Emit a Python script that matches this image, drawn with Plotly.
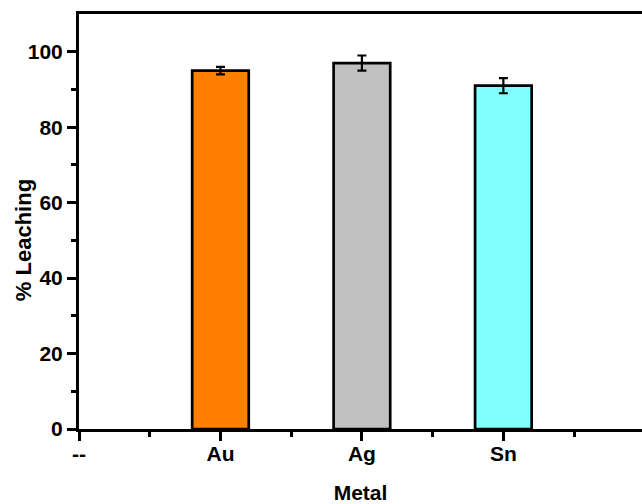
import plotly.graph_objects as go

# Leaching efficiency per metal
tick_labels = ["--", "Au", "Ag", "Sn", "--"]
metals = ["Au", "Ag", "Sn"]
leaching = [95.0, 97.0, 91.0]
leaching_err = [1.0, 2.0, 2.0]
bar_colors = ["#FF7F00", "#C0C0C0", "#80FFFF"]
y_ticks = [0, 20, 40, 60, 80, 100]

x_pos = [tick_labels.index(m) for m in metals]

font_main = "Liberation Sans, Arial, sans-serif"

fig = go.Figure()
fig.add_trace(go.Bar(
    x=x_pos,
    y=leaching,
    width=0.4,
    marker=dict(color=bar_colors, line=dict(color="black", width=2.7)),
    error_y=dict(type="data", array=leaching_err, color="black",
                 thickness=2.2, width=4.5),
    showlegend=False,
))

fig.update_layout(
    width=642, height=504,
    margin=dict(l=79, r=0, t=14, b=75),
    paper_bgcolor="white", plot_bgcolor="white",
    font=dict(family=font_main, size=21, color="black"),
    xaxis=dict(
        range=[0, 3.98],
        tickmode="array",
        tickvals=list(range(len(tick_labels))),
        ticktext=["<b>%s</b>" % t for t in tick_labels],
        ticks="outside", ticklen=9, tickwidth=2.5, tickcolor="black",
        ticklabelstandoff=-5,
        minor=dict(tickvals=[0.5, 1.5, 2.5, 3.5], ticks="outside",
                   ticklen=5, tickwidth=2.5, tickcolor="black"),
        showline=True, linecolor="black", linewidth=3, mirror=True,
        showgrid=False, zeroline=False,
        title=dict(text="<b>Metal</b>", standoff=23,
                   font=dict(family=font_main, size=21)),
        tickfont=dict(family=font_main, size=21),
    ),
    yaxis=dict(
        range=[0, 110],
        tickmode="array",
        tickvals=y_ticks,
        ticktext=["<b>%d</b>" % v for v in y_ticks],
        ticks="outside", ticklen=9, tickwidth=2.5, tickcolor="black",
        minor=dict(tickvals=[10, 30, 50, 70, 90], ticks="outside",
                   ticklen=5, tickwidth=2.5, tickcolor="black"),
        showline=True, linecolor="black", linewidth=3, mirror=False,
        showgrid=False, zeroline=False,
        tickfont=dict(family=font_main, size=21),
    ),
    annotations=[dict(
        text="<b>% Leaching</b>", textangle=-90,
        xref="paper", yref="paper", x=-0.0995, y=0.455,
        xanchor="center", yanchor="middle", showarrow=False,
        font=dict(family=font_main, size=22),
    )],
)

fig.write_html("out.html")
